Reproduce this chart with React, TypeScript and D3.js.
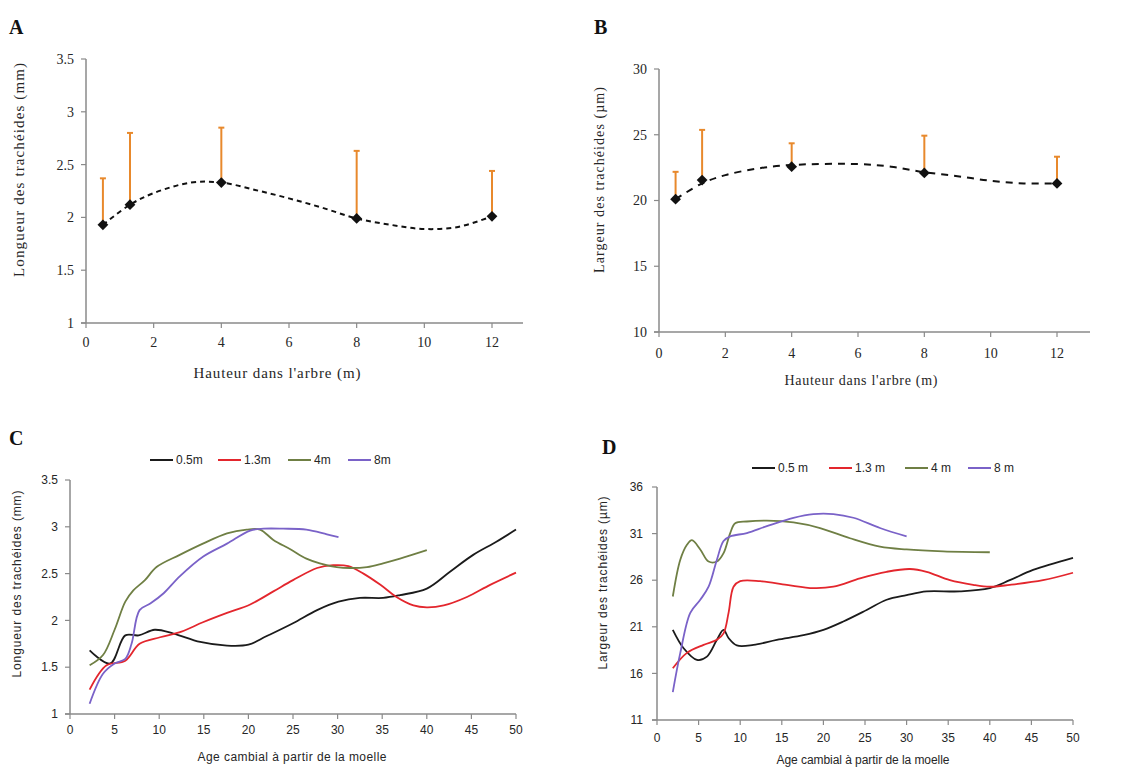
import React from "react";
import * as d3 from "d3";

// ---------- Data ----------
// Panels A & B: height in tree (m)
const heights = [0.5, 1.3, 4, 8, 12];
const lengthMean = [1.93, 2.12, 2.33, 1.99, 2.01];
const lengthUpper = [2.37, 2.8, 2.85, 2.63, 2.44];
const widthMean = [20.1, 21.55, 22.57, 22.1, 21.3];
const widthUpper = [22.18, 25.37, 24.35, 24.93, 23.33];

// Trend curves
const trendLengthX = [0.5, 1.3, 2, 3.1, 4, 5, 6, 7, 8, 9, 10, 11, 12];
const trendLengthY = [1.93, 2.12, 2.23, 2.33, 2.33, 2.26, 2.18, 2.09, 1.99, 1.93, 1.89, 1.91, 2.01];
const trendWidthX = [0.5, 1.3, 2, 3, 4, 6, 7, 8, 9, 10, 11, 12];
const trendWidthY = [20.1, 21.3, 21.93, 22.44, 22.7, 22.77, 22.57, 22.15, 21.85, 21.5, 21.3, 21.3];

// Panel C: tracheid length vs cambial age
const lenC05: [number, number][] = [[2.2, 1.68], [4.5, 1.54], [6.2, 1.84], [7.7, 1.84], [9.5, 1.9], [11.6, 1.86], [14.6, 1.77], [17.6, 1.73], [20, 1.74], [22, 1.83], [25, 1.97], [27.7, 2.11], [30.1, 2.2], [32.5, 2.24], [35.1, 2.24], [37, 2.27], [40, 2.34], [42.6, 2.52], [45.2, 2.7], [47.8, 2.84], [50, 2.97]];
const lenC13: [number, number][] = [[2.2, 1.26], [4.1, 1.52], [6.2, 1.57], [7.8, 1.75], [10.1, 1.82], [12.5, 1.88], [14.9, 1.98], [17.6, 2.08], [20.2, 2.17], [22.8, 2.31], [25, 2.43], [27.7, 2.56], [29.5, 2.59], [31.2, 2.58], [32.9, 2.5], [34.8, 2.38], [36.6, 2.25], [38.5, 2.16], [40, 2.14], [41.9, 2.16], [44.5, 2.25], [47.1, 2.38], [50, 2.51]];
const lenC4: [number, number][] = [[2.2, 1.52], [3.7, 1.63], [5, 1.9], [6.2, 2.2], [7.1, 2.32], [8.4, 2.43], [9.7, 2.57], [12.3, 2.7], [14.9, 2.82], [17.6, 2.93], [19.8, 2.97], [21.3, 2.97], [22.8, 2.86], [24.7, 2.76], [26.5, 2.66], [28, 2.61], [29.9, 2.57], [31.4, 2.56], [33.3, 2.57], [35.1, 2.61], [37, 2.66], [40, 2.75]];
const lenC8: [number, number][] = [[2.2, 1.11], [3.7, 1.43], [5, 1.54], [6.2, 1.59], [6.9, 1.75], [7.8, 2.11], [9, 2.18], [10.5, 2.29], [12.3, 2.47], [14.9, 2.68], [17.6, 2.82], [20.2, 2.96], [21.7, 2.98], [23.9, 2.98], [26.5, 2.97], [28.8, 2.92], [30.1, 2.89]];

// Panel D: tracheid width vs cambial age
const widD05: [number, number][] = [[1.9, 20.67], [3.2, 18.7], [4.8, 17.45], [6, 17.8], [7.2, 19.6], [8, 20.67], [8.6, 19.8], [9.6, 19.0], [11.6, 19.06], [14.4, 19.6], [17.6, 20.1], [20, 20.67], [22.4, 21.57], [25.2, 22.8], [27.6, 23.9], [30, 24.4], [32.4, 24.8], [36.4, 24.8], [40, 25.15], [42.4, 26.0], [45.2, 27.1], [50, 28.4]];
const widD13: [number, number][] = [[1.9, 16.55], [3.6, 18.2], [5.6, 19.06], [7.2, 19.6], [8, 20.3], [8.6, 22.5], [9.2, 25.3], [10, 25.9], [12.4, 25.9], [15.6, 25.5], [18.8, 25.15], [21.2, 25.3], [24.4, 26.2], [27.6, 26.9], [30.4, 27.2], [32.4, 26.9], [35.2, 26.0], [38, 25.5], [40, 25.3], [42.4, 25.5], [46.4, 26.0], [50, 26.8]];
const widD4: [number, number][] = [[1.9, 24.25], [2.8, 28.2], [3.6, 29.8], [4.2, 30.3], [5.2, 29.3], [6.2, 28.0], [7.2, 28.0], [8, 28.9], [8.8, 31.06], [9.4, 32.1], [10.8, 32.3], [13.2, 32.4], [16.4, 32.2], [19.6, 31.6], [23.2, 30.5], [26.8, 29.6], [30, 29.3], [34.4, 29.1], [40, 29.0]];
const widD8: [number, number][] = [[1.9, 14.0], [2.8, 18.2], [4, 22.5], [5.2, 23.9], [6.2, 25.3], [7.2, 28.2], [8, 30.2], [8.8, 30.7], [10.8, 31.06], [13.2, 31.8], [16.4, 32.7], [18.8, 33.1], [21.2, 33.1], [23.6, 32.7], [26.8, 31.6], [30, 30.7]];

const ticksAx = [0, 2, 4, 6, 8, 10, 12];
const ticksAy = [1, 1.5, 2, 2.5, 3, 3.5];
const ticksBy = [10, 15, 20, 25, 30];
const ticksCx = [0, 5, 10, 15, 20, 25, 30, 35, 40, 45, 50];
const ticksCy = [1, 1.5, 2, 2.5, 3, 3.5];
const ticksDy = [11, 16, 21, 26, 31, 36];

const legendLabelsC = ["0.5m", "1.3m", "4m", "8m"];
const legendLabelsD = ["0.5 m", "1.3 m", "4 m", "8 m"];
const seriesColors = ["#1b1b1b", "#e3262d", "#6f7f44", "#7a62c8"];

const AXIS = "#8a8a8a";
const TXT = "#262626";
const SERIF = "'Liberation Serif', 'DejaVu Serif', serif";
const SANS = "'Liberation Sans', Arial, sans-serif";

type AxisProps = {
  x: d3.ScaleLinear<number, number>;
  y: d3.ScaleLinear<number, number>;
  xTicks: number[];
  yTicks: number[];
  xEnd: number;
  font: string;
  fs: number;
  xLabelDy: number;
  yLabelDx: number;
};

function Axes({ x, y, xTicks, yTicks, xEnd, font, fs, xLabelDy, yLabelDx }: AxisProps) {
  const x0 = x.range()[0];
  const y0 = y.range()[0];
  const yTop = y.range()[1];
  return (
    <g>
      <line x1={x0} x2={x0} y1={yTop} y2={y0} stroke={AXIS} strokeWidth={1.5} />
      <line x1={x0 - 5} x2={xEnd} y1={y0} y2={y0} stroke={AXIS} strokeWidth={1.5} />
      {yTicks.map((t) => (
        <g key={"y" + t}>
          <line x1={x0 - 5} x2={x0} y1={y(t)} y2={y(t)} stroke={AXIS} strokeWidth={1.2} />
          <text x={x0 - yLabelDx} y={y(t)} dy="0.35em" textAnchor="end" fontFamily={font} fontSize={fs} fill={TXT}>
            {String(t)}
          </text>
        </g>
      ))}
      {xTicks.map((t) => (
        <g key={"x" + t}>
          <line x1={x(t)} x2={x(t)} y1={y0} y2={y0 + 5} stroke={AXIS} strokeWidth={1.2} />
          <text x={x(t)} y={y0 + xLabelDy} textAnchor="middle" fontFamily={font} fontSize={fs} fill={TXT}>
            {String(t)}
          </text>
        </g>
      ))}
    </g>
  );
}

const diamond = d3.symbol(d3.symbolSquare, 58)() as string;

function ErrorPanel(props: {
  x: d3.ScaleLinear<number, number>;
  y: d3.ScaleLinear<number, number>;
  xs: number[];
  mean: number[];
  upper: number[];
  tx: number[];
  ty: number[];
  dash: string;
}) {
  const { x, y, xs, mean, upper, tx, ty, dash } = props;
  const trend = d3
    .line<number>()
    .x((_, i) => x(tx[i]))
    .y((d) => y(d))
    .curve(d3.curveCatmullRom.alpha(0.5));
  return (
    <g>
      <path d={trend(ty) || ""} fill="none" stroke="#111" strokeWidth={2} strokeDasharray={dash} />
      {xs.map((h, i) => (
        <g key={i}>
          <line x1={x(h)} x2={x(h)} y1={y(mean[i])} y2={y(upper[i])} stroke="#e8892c" strokeWidth={2} />
          <line x1={x(h) - 3} x2={x(h) + 3} y1={y(upper[i])} y2={y(upper[i])} stroke="#e8892c" strokeWidth={2} />
          <path d={diamond} transform={`translate(${x(h)},${y(mean[i])}) rotate(45)`} fill="#111" />
        </g>
      ))}
    </g>
  );
}

function LinePanel(props: {
  x: d3.ScaleLinear<number, number>;
  y: d3.ScaleLinear<number, number>;
  series: [number, number][][];
}) {
  const { x, y, series } = props;
  const line = d3
    .line<[number, number]>()
    .x((d) => x(d[0]))
    .y((d) => y(d[1]))
    .curve(d3.curveCatmullRom.alpha(0.5));
  return (
    <g>
      {series.map((s, i) => (
        <path key={i} d={line(s) || ""} fill="none" stroke={seriesColors[i]} strokeWidth={1.8} />
      ))}
    </g>
  );
}

function Legend(props: { labels: string[]; xs: number[]; y: number; font: string }) {
  const { labels, xs, y, font } = props;
  return (
    <g>
      {labels.map((l, i) => (
        <g key={l}>
          <line x1={xs[i]} x2={xs[i] + 23} y1={y} y2={y} stroke={seriesColors[i]} strokeWidth={2} />
          <text x={xs[i] + 26} y={y} dy="0.35em" fontFamily={font} fontSize={12} fill={TXT}>
            {l}
          </text>
        </g>
      ))}
    </g>
  );
}

function Title(props: { x: number; y: number; len: number; vertical?: boolean; font: string; fs: number; children: string }) {
  const { x, y, len, vertical, font, fs, children } = props;
  return (
    <text
      transform={vertical ? `translate(${x},${y}) rotate(-90)` : `translate(${x},${y})`}
      textAnchor="middle"
      fontFamily={font}
      fontSize={fs}
      fill={TXT}
      textLength={len}
      lengthAdjust="spacing"
    >
      {children}
    </text>
  );
}

export default function App() {
  // Panel A
  const xA = d3.scaleLinear().domain([0, 12]).range([86, 492]);
  const yA = d3.scaleLinear().domain([1, 3.5]).range([323, 59]);
  // Panel B
  const xB = d3.scaleLinear().domain([0, 12]).range([659, 1057]);
  const yB = d3.scaleLinear().domain([10, 30]).range([332, 69]);
  // Panel C
  const xC = d3.scaleLinear().domain([0, 50]).range([70, 516]);
  const yC = d3.scaleLinear().domain([1, 3.5]).range([714, 480]);
  // Panel D
  const xD = d3.scaleLinear().domain([0, 50]).range([657, 1073]);
  const yD = d3.scaleLinear().domain([11, 36]).range([720, 487]);

  return (
    <svg
      width={1129}
      height={769}
      style={{ position: "absolute", left: 0, top: 0, display: "block", background: "#fff" }}
    >
      {/* Panel letters */}
      <text x={9} y={34} fontFamily={SERIF} fontWeight="bold" fontSize={20} fill="#111">A</text>
      <text x={594} y={34} fontFamily={SERIF} fontWeight="bold" fontSize={20} fill="#111">B</text>
      <text x={9} y={445} fontFamily={SERIF} fontWeight="bold" fontSize={20} fill="#111">C</text>
      <text x={602} y={454} fontFamily={SERIF} fontWeight="bold" fontSize={20} fill="#111">D</text>

      {/* Panel A */}
      <Axes x={xA} y={yA} xTicks={ticksAx} yTicks={ticksAy} xEnd={523} font={SERIF} fs={14} xLabelDy={24} yLabelDx={12} />
      <ErrorPanel x={xA} y={yA} xs={heights} mean={lengthMean} upper={lengthUpper} tx={trendLengthX} ty={trendLengthY} dash="5,4" />
      <Title x={24} y={170} len={214} vertical font={SERIF} fs={15}>Longueur des trachéides (mm)</Title>
      <Title x={277} y={378} len={167} font={SERIF} fs={15}>Hauteur dans l'arbre (m)</Title>

      {/* Panel B */}
      <Axes x={xB} y={yB} xTicks={ticksAx} yTicks={ticksBy} xEnd={1090} font={SERIF} fs={14} xLabelDy={26} yLabelDx={12} />
      <ErrorPanel x={xB} y={yB} xs={heights} mean={widthMean} upper={widthUpper} tx={trendWidthX} ty={trendWidthY} dash="7,6" />
      <Title x={604} y={180} len={186} vertical font={SERIF} fs={14}>Largeur des trachéides (µm)</Title>
      <Title x={861} y={385} len={153} font={SERIF} fs={14}>Hauteur dans l'arbre (m)</Title>

      {/* Panel C */}
      <Legend labels={legendLabelsC} xs={[150, 218, 288, 348]} y={460} font={SANS} />
      <Axes x={xC} y={yC} xTicks={ticksCx} yTicks={ticksCy} xEnd={516} font={SANS} fs={12} xLabelDy={20} yLabelDx={12} />
      <LinePanel x={xC} y={yC} series={[lenC05, lenC13, lenC4, lenC8]} />
      <Title x={21} y={584} len={187} vertical font={SANS} fs={12}>Longueur des trachéides (mm)</Title>
      <Title x={292} y={761} len={189} font={SANS} fs={12}>Age cambial à partir de la moelle</Title>

      {/* Panel D */}
      <Legend labels={legendLabelsD} xs={[752, 829, 905, 968]} y={468} font={SANS} />
      <Axes x={xD} y={yD} xTicks={ticksCx} yTicks={ticksDy} xEnd={1073} font={SANS} fs={12} xLabelDy={22} yLabelDx={14} />
      <LinePanel x={xD} y={yD} series={[widD05, widD13, widD4, widD8]} />
      <Title x={607} y={583} len={173} vertical font={SANS} fs={12}>Largeur des trachéides (µm)</Title>
      <Title x={863} y={764} len={173} font={SANS} fs={12}>Age cambial à partir de la moelle</Title>
    </svg>
  );
}
